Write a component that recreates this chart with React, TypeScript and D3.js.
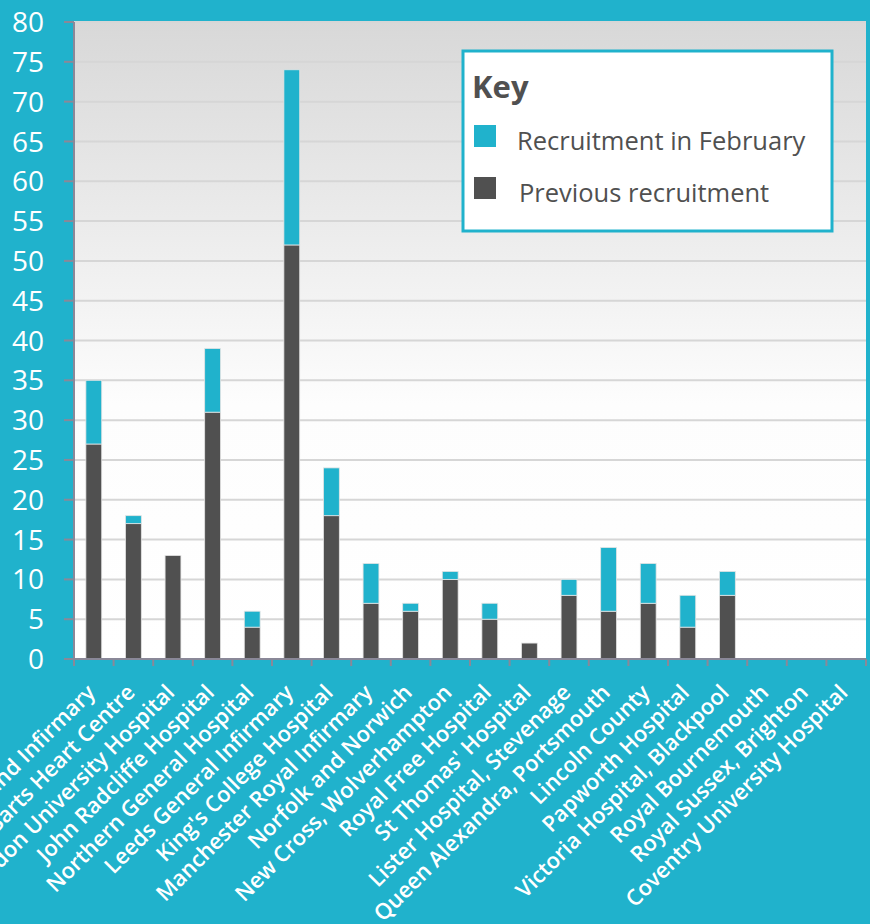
import React from 'react';
import * as d3 from 'd3';

// hospitals along the x axis
const hospitals = [
    'Cumberland Infirmary',
    'Barts Heart Centre',
    'Basildon University Hospital',
    'John Radcliffe Hospital',
    'Northern General Hospital',
    'Leeds General Infirmary',
    "King's College Hospital",
    'Manchester Royal Infirmary',
    'Norfolk and Norwich',
    'New Cross, Wolverhampton',
    'Royal Free Hospital',
    "St Thomas' Hospital",
    'Lister Hospital, Stevenage',
    'Queen Alexandra, Portsmouth',
    'Lincoln County',
    'Papworth Hospital',
    'Victoria Hospital, Blackpool',
    'Royal Bournemouth',
    'Royal Sussex, Brighton',
    'Coventry University Hospital',
];
const previous = [27, 17, 13, 31, 4, 52, 18, 7, 6, 10, 5, 2, 8, 6, 7, 4, 8, 0, 0, 0];
const february = [8, 1, 0, 8, 2, 22, 6, 5, 1, 1, 2, 0, 2, 8, 5, 4, 3, 0, 0, 0];
const yTicks = [0, 5, 10, 15, 20, 25, 30, 35, 40, 45, 50, 55, 60, 65, 70, 75, 80];
const seriesNames = ['Recruitment in February', 'Previous recruitment'];

const TEAL = '#20b2cc';
const DARK = '#505050';
const AXIS = '#8a8898';

const W = 870, H = 924;
const m = { top: 22, right: 4, bottom: 265, left: 74 };

export default function App() {
    const x = d3.scaleBand().domain(hospitals).range([m.left, W - m.right]).paddingInner(0.6).paddingOuter(0.3);
    const band = d3.scaleBand().domain(hospitals).range([m.left, W - m.right]);
    const y = d3.scaleLinear().domain([0, 80]).range([H - m.bottom, m.top]);
    const rows = hospitals.map((h, i) => ({ h, prev: previous[i], feb: february[i] }));
    const stacked = d3.stack<any>().keys(['prev', 'feb'])(rows);
    const colors: Record<string, string> = { prev: DARK, feb: TEAL };
    const font = "'Open Sans', 'DejaVu Sans', sans-serif";

    return (
        <svg width={W} height={H} style={{ position: 'absolute', left: 0, top: 0, display: 'block' }} fontFamily={font}>
            <defs>
                <linearGradient id="plotBg" x1="0" y1="0" x2="0" y2="1">
                    <stop offset="0" stopColor="#d8d8d8" />
                    <stop offset="0.6" stopColor="#fdfdfd" />
                    <stop offset="1" stopColor="#ffffff" />
                </linearGradient>
            </defs>
            <rect width={W} height={H} fill={TEAL} />
            <rect x={m.left} y={m.top} width={W - m.right - m.left} height={y(0) - m.top} fill="url(#plotBg)" />

            {/* gridlines */}
            {yTicks.filter(t => t > 0).map(t => (
                <line key={t} x1={m.left} x2={W - m.right} y1={y(t)} y2={y(t)} stroke="#d6d6d6" strokeWidth={2} />
            ))}

            {/* bars */}
            {stacked.map(s => s.map((d, i) => (
                d[1] - d[0] > 0 ? (
                    <rect key={s.key + i} x={x(hospitals[i])} width={x.bandwidth()} y={y(d[1])} height={y(d[0]) - y(d[1])}
                        fill={colors[s.key]} stroke="#e4e4e4" strokeWidth={0.8} />
                ) : null
            )))}

            {/* y axis */}
            <line x1={m.left} x2={m.left} y1={m.top} y2={y(0)} stroke={AXIS} strokeWidth={2} />
            {yTicks.map(t => (
                <g key={t} transform={`translate(0,${y(t)})`}>
                    <line x1={m.left - 10} x2={m.left} stroke={AXIS} strokeWidth={2} />
                    <text x={44} dy="0.36em" textAnchor="end" fill="#fff" fontSize={28}>{t}</text>
                </g>
            ))}

            {/* x axis */}
            <line x1={m.left} x2={W - m.right} y1={y(0)} y2={y(0)} stroke={AXIS} strokeWidth={2} />
            {hospitals.concat(['']).map((h, i) => {
                const tx = m.left + i * band.bandwidth();
                return <line key={'t' + i} x1={tx} x2={tx} y1={y(0)} y2={y(0) + 7} stroke={AXIS} strokeWidth={2} />;
            })}
            {hospitals.map(h => {
                const cx = (band(h) as number) + band.bandwidth() / 2;
                return (
                    <text key={h} transform={`translate(${cx - 8},${y(0) + 24}) rotate(-45)`} textAnchor="end"
                        dy="0.7em" fill="#fff" fontSize={22} fontWeight={600}>{h}</text>
                );
            })}

            {/* legend */}
            <g>
                <rect x={463} y={51} width={369} height={180} fill="#fff" stroke={TEAL} strokeWidth={3} />
                <text x={472} y={98} fill={DARK} fontSize={31} fontWeight={700}>Key</text>
                {seriesNames.map((name, i) => (
                    <g key={name}>
                        <rect x={474} y={125 + i * 52} width={22} height={22} fill={i === 0 ? TEAL : DARK} />
                        <text x={517 + i * 2} y={150 + i * 52} fill={DARK} fontSize={25.5}>{name}</text>
                    </g>
                ))}
            </g>
        </svg>
    );
}
